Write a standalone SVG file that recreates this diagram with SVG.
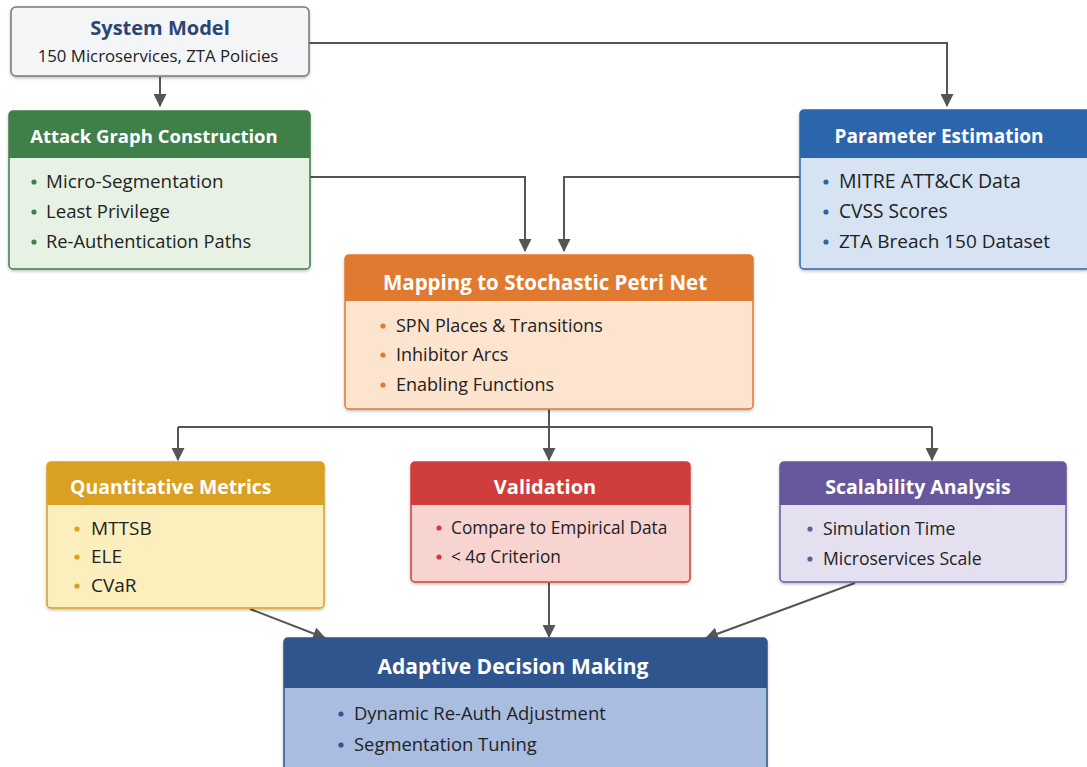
<svg xmlns="http://www.w3.org/2000/svg" width="1087" height="767" viewBox="0 0 1087 767">
<defs>
<marker id="ah" viewBox="0 0 12 12" refX="11" refY="6" markerWidth="13" markerHeight="13" markerUnits="userSpaceOnUse" orient="auto">
<path d="M0,0 L12,6 L0,12 z" fill="#555"/>
</marker>
<filter id="sh" x="-5%" y="-5%" width="110%" height="115%">
<feDropShadow dx="0" dy="1.5" stdDeviation="1.5" flood-color="#000" flood-opacity="0.25"/>
</filter>
</defs>
<style>
text{font-family:"Open Sans","Noto Sans","DejaVu Sans",sans-serif}
.t{font-size:18.5px;font-weight:bold;fill:#fff;text-anchor:middle}
.b{font-size:18px;fill:#222}
.c{fill:none;stroke:#555;stroke-width:2}
</style>
<rect width="1087" height="767" fill="#ffffff"/>
<g id="connectors">
<path class="c" d="M160,77 V106" marker-end="url(#ah)"/>
<path class="c" d="M309,43 H947 V106" marker-end="url(#ah)"/>
<path class="c" d="M310,177 H525 V251" marker-end="url(#ah)"/>
<path class="c" d="M800,177 H564 V251" marker-end="url(#ah)"/>
<path class="c" d="M549,409 V427"/>
<path class="c" d="M178,427 H932"/>
<path class="c" d="M178,427 V460" marker-end="url(#ah)"/>
<path class="c" d="M549,427 V460" marker-end="url(#ah)"/>
<path class="c" d="M932,427 V460" marker-end="url(#ah)"/>
<path class="c" d="M250,609 L325,638" marker-end="url(#ah)"/>
<path class="c" d="M549,583 V637" marker-end="url(#ah)"/>
<path class="c" d="M855,583 L706,638" marker-end="url(#ah)"/>
</g>
<g id="system-model">
<rect x="11" y="7" width="298" height="69" rx="5" fill="#f4f5f7" stroke="#777" stroke-width="1.5" filter="url(#sh)"/>
<text x="160" y="35" style="font-size:20px;font-weight:bold;fill:#2a4676;text-anchor:middle">System Model</text>
<text x="158" y="62" style="font-size:16.8px;fill:#222;text-anchor:middle">150 Microservices, ZTA Policies</text>
</g>
<g id="attack-graph">
<rect x="9" y="111" width="301" height="158" rx="4" fill="#e7f2e4" stroke="#3f8049" stroke-width="1.5" filter="url(#sh)"/>
<path d="M9,158 V115 a4,4 0 0 1 4,-4 H306 a4,4 0 0 1 4,4 V158 z" fill="#3f8049"/>
<text class="t" x="154" y="143">Attack Graph Construction</text>
<g fill="#3f8049"><circle cx="34" cy="182" r="2.6"/><circle cx="34" cy="212" r="2.6"/><circle cx="34" cy="242" r="2.6"/></g>
<g style="font-size:18.6px">
<text class="b" x="46" y="188" style="font-size:18.8px">Micro-Segmentation</text>
<text class="b" x="46" y="218" style="font-size:18.6px">Least Privilege</text>
<text class="b" x="46" y="248" style="font-size:18.3px">Re-Authentication Paths</text>
</g>
</g>
<g id="parameter-estimation">
<rect x="800" y="110" width="290" height="159" rx="4" fill="#d6e3f3" stroke="#2b66ad" stroke-width="1.5" filter="url(#sh)"/>
<path d="M800,158 V114 a4,4 0 0 1 4,-4 H1090 V158 z" fill="#2b66ad"/>
<text class="t" x="939" y="143" style="font-size:19px">Parameter Estimation</text>
<g fill="#2b66ad"><circle cx="826" cy="182" r="2.6"/><circle cx="826" cy="212" r="2.6"/><circle cx="826" cy="242" r="2.6"/></g>
<text class="b" x="839" y="188" style="font-size:19.5px">MITRE ATT&amp;CK Data</text>
<text class="b" x="839" y="218" style="font-size:19.2px">CVSS Scores</text>
<text class="b" x="839" y="248" style="font-size:19px">ZTA Breach 150 Dataset</text>
</g>
<g id="mapping-spn">
<rect x="345" y="255" width="408" height="154" rx="4" fill="#fde4ce" stroke="#e07a30" stroke-width="1.5" filter="url(#sh)"/>
<path d="M345,301 V259 a4,4 0 0 1 4,-4 H749 a4,4 0 0 1 4,4 V301 z" fill="#e07a30"/>
<text class="t" x="545" y="290" style="font-size:20.5px">Mapping to Stochastic Petri Net</text>
<g fill="#e07a30"><circle cx="383" cy="326" r="2.6"/><circle cx="383" cy="355" r="2.6"/><circle cx="383" cy="385" r="2.6"/></g>
<text class="b" x="396" y="332">SPN Places &amp; Transitions</text>
<text class="b" x="396" y="361">Inhibitor Arcs</text>
<text class="b" x="396" y="391">Enabling Functions</text>
</g>
<g id="quantitative-metrics">
<rect x="47" y="462" width="277" height="146" rx="4" fill="#fdefbd" stroke="#d9a022" stroke-width="1.5" filter="url(#sh)"/>
<path d="M47,505 V466 a4,4 0 0 1 4,-4 H320 a4,4 0 0 1 4,4 V505 z" fill="#d9a022"/>
<text class="t" x="70" y="494" style="text-anchor:start;font-size:19.4px">Quantitative Metrics</text>
<g fill="#d9a022"><circle cx="77" cy="529" r="2.6"/><circle cx="77" cy="557" r="2.6"/><circle cx="77" cy="586" r="2.6"/></g>
<text class="b" x="91" y="535" style="font-size:19px">MTTSB</text>
<text class="b" x="91" y="563" style="font-size:19px">ELE</text>
<text class="b" x="91" y="592" style="font-size:19px">CVaR</text>
</g>
<g id="validation">
<rect x="411" y="462" width="279" height="120" rx="4" fill="#f8d4d1" stroke="#cf3e3c" stroke-width="1.5" filter="url(#sh)"/>
<path d="M411,505 V466 a4,4 0 0 1 4,-4 H686 a4,4 0 0 1 4,4 V505 z" fill="#cf3e3c"/>
<text class="t" x="545" y="494" style="font-size:20px">Validation</text>
<g fill="#cf3e3c"><circle cx="439" cy="528" r="2.6"/><circle cx="439" cy="557" r="2.6"/></g>
<text class="b" x="451" y="534" style="font-size:17.3px">Compare to Empirical Data</text>
<text class="b" x="451" y="563" style="font-size:17.3px">&lt; 4σ Criterion</text>
</g>
<g id="scalability-analysis">
<rect x="780" y="462" width="286" height="120" rx="4" fill="#e4e0f0" stroke="#67589e" stroke-width="1.5" filter="url(#sh)"/>
<path d="M780,505 V466 a4,4 0 0 1 4,-4 H1062 a4,4 0 0 1 4,4 V505 z" fill="#67589e"/>
<text class="t" x="918" y="494" style="font-size:19.5px">Scalability Analysis</text>
<g fill="#67589e"><circle cx="810" cy="529" r="2.6"/><circle cx="810" cy="559" r="2.6"/></g>
<text class="b" x="823" y="535" style="font-size:17.6px">Simulation Time</text>
<text class="b" x="823" y="565" style="font-size:17.6px">Microservices Scale</text>
</g>
<g id="adaptive-decision-making">
<rect x="284" y="638" width="483" height="135" rx="4" fill="#a9bde0" stroke="#2f558f" stroke-width="1.5" filter="url(#sh)"/>
<path d="M284,688 V642 a4,4 0 0 1 4,-4 H763 a4,4 0 0 1 4,4 V688 z" fill="#2f558f"/>
<text class="t" x="513" y="674" style="font-size:21px">Adaptive Decision Making</text>
<g fill="#2f558f"><circle cx="341" cy="714" r="2.6"/><circle cx="341" cy="745" r="2.6"/></g>
<text class="b" x="354" y="720" style="font-size:18.4px">Dynamic Re-Auth Adjustment</text>
<text class="b" x="354" y="751" style="font-size:18.4px">Segmentation Tuning</text>
</g>
</svg>
